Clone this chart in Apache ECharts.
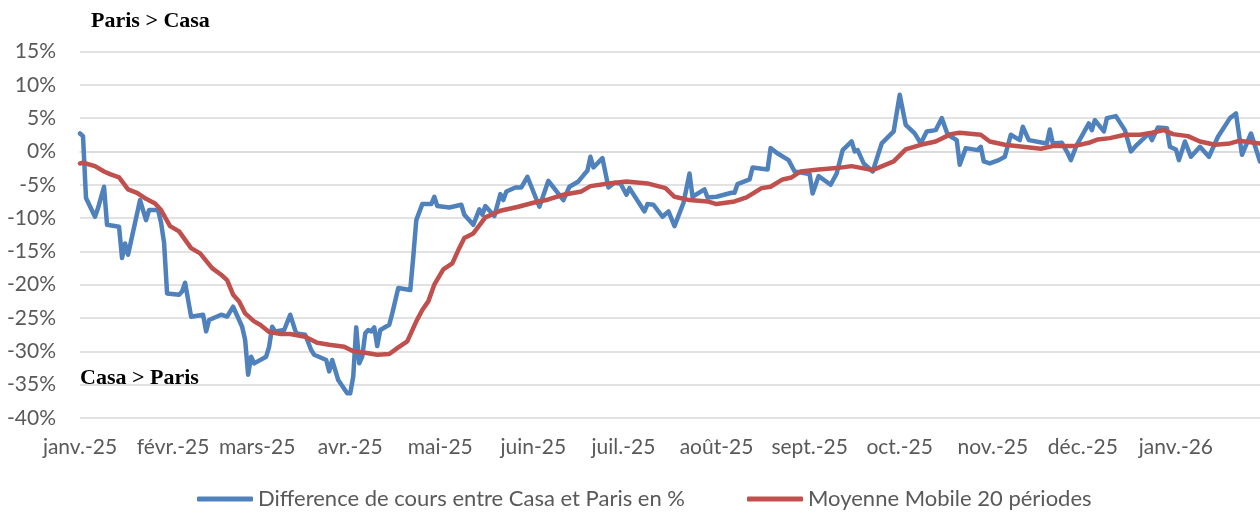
<!DOCTYPE html>
<html>
<head>
<meta charset="utf-8">
<script src="https://cdn.jsdelivr.net/npm/echarts@6/dist/echarts.min.js"></script>
<style>
html,body{margin:0;padding:0;background:#fff;}
#c{width:1260px;height:512px;}
</style>
</head>
<body>
<div id="c"></div>
<script>
const monthStarts = ['2025-01-01','2025-02-01','2025-03-01','2025-04-01','2025-05-01','2025-06-01','2025-07-01','2025-08-01','2025-09-01','2025-10-01','2025-11-01','2025-12-01','2026-01-01'];
const tickLabels = ['janv.-25','févr.-25','mars-25','avr.-25','mai-25','juin-25','juil.-25','août-25','sept.-25','oct.-25','nov.-25','déc.-25','janv.-26'];

const seriesNames = ['Difference de cours entre Casa et Paris en %', 'Moyenne Mobile 20 périodes'];

const diffDates = ['2025-01-01','2025-01-02','2025-01-03','2025-01-06','2025-01-07','2025-01-09','2025-01-10','2025-01-14','2025-01-15','2025-01-16','2025-01-17','2025-01-21','2025-01-23','2025-01-24','2025-01-27','2025-01-28','2025-01-29','2025-01-30','2025-02-03','2025-02-04','2025-02-05','2025-02-07','2025-02-11','2025-02-12','2025-02-13','2025-02-17','2025-02-19','2025-02-21','2025-02-24','2025-02-25','2025-02-26','2025-02-27','2025-02-28','2025-03-04','2025-03-05','2025-03-06','2025-03-07','2025-03-10','2025-03-12','2025-03-14','2025-03-17','2025-03-19','2025-03-20','2025-03-24','2025-03-25','2025-03-26','2025-03-28','2025-03-31','2025-04-01','2025-04-02','2025-04-03','2025-04-04','2025-04-05','2025-04-06','2025-04-07','2025-04-08','2025-04-09','2025-04-10','2025-04-11','2025-04-14','2025-04-15','2025-04-17','2025-04-21','2025-04-22','2025-04-23','2025-04-25','2025-04-28','2025-04-29','2025-04-30','2025-05-04','2025-05-08','2025-05-09','2025-05-12','2025-05-14','2025-05-15','2025-05-16','2025-05-19','2025-05-21','2025-05-22','2025-05-23','2025-05-26','2025-05-28','2025-05-30','2025-06-03','2025-06-06','2025-06-11','2025-06-13','2025-06-16','2025-06-18','2025-06-19','2025-06-20','2025-06-21','2025-06-24','2025-06-26','2025-06-28','2025-06-30','2025-07-02','2025-07-03','2025-07-08','2025-07-09','2025-07-11','2025-07-14','2025-07-16','2025-07-18','2025-07-21','2025-07-23','2025-07-24','2025-07-28','2025-07-29','2025-08-01','2025-08-06','2025-08-07','2025-08-08','2025-08-12','2025-08-13','2025-08-18','2025-08-19','2025-08-21','2025-08-25','2025-08-27','2025-09-01','2025-09-02','2025-09-04','2025-09-08','2025-09-10','2025-09-12','2025-09-15','2025-09-16','2025-09-17','2025-09-19','2025-09-22','2025-09-25','2025-09-29','2025-10-01','2025-10-03','2025-10-06','2025-10-08','2025-10-10','2025-10-13','2025-10-15','2025-10-17','2025-10-20','2025-10-21','2025-10-23','2025-10-27','2025-10-28','2025-10-29','2025-10-31','2025-11-03','2025-11-05','2025-11-07','2025-11-10','2025-11-11','2025-11-13','2025-11-19','2025-11-20','2025-11-21','2025-11-24','2025-11-26','2025-11-27','2025-11-29','2025-12-03','2025-12-04','2025-12-05','2025-12-08','2025-12-09','2025-12-12','2025-12-15','2025-12-17','2025-12-19','2025-12-23','2025-12-24','2025-12-26','2025-12-29','2025-12-30','2026-01-01','2026-01-02','2026-01-04','2026-01-06','2026-01-09','2026-01-12','2026-01-15','2026-01-19','2026-01-21','2026-01-23','2026-01-26','2026-01-29'];
const diffValues = [2.7,2.3,-7.0,-9.8,-8.5,-5.3,-11.0,-11.3,-16.0,-13.8,-15.5,-7.3,-10.3,-8.8,-8.8,-10.7,-13.7,-21.3,-21.5,-21.0,-19.7,-24.8,-24.5,-27.0,-25.3,-24.5,-24.8,-23.3,-26.3,-28.3,-33.5,-30.8,-31.8,-30.8,-29.3,-26.3,-27.0,-26.8,-24.5,-27.3,-27.5,-29.8,-30.5,-31.3,-33.0,-31.3,-34.3,-36.3,-36.3,-33.8,-26.4,-31.8,-30.8,-27.3,-26.8,-27.0,-26.4,-29.2,-26.8,-26.0,-24.3,-20.5,-20.8,-15.8,-10.3,-7.9,-7.9,-6.8,-8.2,-8.4,-8.0,-9.5,-11.0,-8.7,-9.5,-8.2,-9.7,-6.4,-7.3,-6.0,-5.4,-5.4,-3.8,-8.3,-4.4,-7.3,-5.3,-4.5,-3.4,-2.9,-0.8,-2.4,-1.0,-5.4,-4.7,-4.8,-6.5,-5.5,-9.0,-7.9,-8.0,-9.8,-9.0,-11.2,-7.7,-3.3,-6.8,-5.7,-6.9,-6.8,-6.2,-6.2,-4.9,-4.2,-2.4,-2.7,0.5,-0.2,-1.3,-3.0,-3.4,-6.3,-3.7,-5.0,-3.3,0.2,1.5,0.0,0.2,-1.8,-3.0,1.2,3.0,8.5,4.0,2.7,1.2,3.0,3.2,5.0,2.5,1.7,-2.0,0.5,0.2,0.7,-1.5,-1.8,-1.3,-0.8,2.5,1.7,3.7,1.7,1.2,3.3,1.2,1.3,-0.3,-1.3,1.0,4.2,3.2,4.7,3.0,5.0,5.3,3.2,0.0,1.0,2.7,1.7,3.6,3.5,0.7,0.3,-1.3,1.5,-0.8,0.7,-0.8,2.2,5.0,5.7,-0.5,2.7,-1.5];

const maDates = ['2025-01-01','2025-01-02','2025-01-06','2025-01-09','2025-01-11','2025-01-14','2025-01-17','2025-01-20','2025-01-23','2025-01-26','2025-01-28','2025-01-31','2025-02-03','2025-02-07','2025-02-10','2025-02-14','2025-02-17','2025-02-19','2025-02-21','2025-02-23','2025-02-25','2025-02-28','2025-03-02','2025-03-05','2025-03-09','2025-03-12','2025-03-17','2025-03-21','2025-03-25','2025-03-30','2025-04-02','2025-04-06','2025-04-10','2025-04-14','2025-04-17','2025-04-20','2025-04-23','2025-04-25','2025-04-27','2025-04-29','2025-05-02','2025-05-05','2025-05-07','2025-05-09','2025-05-12','2025-05-16','2025-05-21','2025-05-27','2025-06-01','2025-06-06','2025-06-11','2025-06-17','2025-06-20','2025-06-26','2025-07-02','2025-07-09','2025-07-15','2025-07-18','2025-07-23','2025-07-29','2025-08-01','2025-08-07','2025-08-11','2025-08-16','2025-08-19','2025-08-23','2025-08-26','2025-08-29','2025-09-04','2025-09-10','2025-09-15','2025-09-22','2025-09-29','2025-10-03','2025-10-08','2025-10-13','2025-10-18','2025-10-21','2025-10-28','2025-10-31','2025-11-05','2025-11-11','2025-11-17','2025-11-21','2025-11-28','2025-12-03','2025-12-06','2025-12-10','2025-12-15','2025-12-20','2025-12-24','2025-12-28','2025-12-31','2026-01-05','2026-01-09','2026-01-14','2026-01-19','2026-01-22','2026-01-29'];
const maValues = [-1.8,-1.7,-2.2,-3.0,-3.4,-3.9,-5.7,-6.2,-7.1,-7.8,-8.8,-11.2,-12.0,-14.5,-15.3,-17.5,-18.5,-19.3,-21.5,-22.5,-24.3,-25.5,-26.0,-27.1,-27.4,-27.4,-27.8,-28.7,-29.0,-29.3,-30.0,-30.2,-30.5,-30.4,-29.4,-28.5,-25.5,-23.8,-22.5,-20.0,-17.7,-16.8,-14.8,-13.0,-12.3,-9.9,-8.9,-8.3,-7.7,-7.2,-6.5,-6.0,-5.2,-4.8,-4.5,-4.8,-5.5,-6.8,-7.3,-7.5,-7.9,-7.5,-6.9,-5.5,-5.3,-4.2,-3.9,-3.0,-2.7,-2.5,-2.2,-2.8,-1.5,0.3,1.0,1.5,2.6,2.8,2.5,1.5,1.0,0.7,0.4,0.8,0.8,1.3,1.8,2.0,2.5,2.5,2.8,3.2,2.6,2.3,1.5,1.0,1.2,1.6,1.2];

const yTickMin = -40, yTickMax = 15, yTickStep = 5;

function toTs(s){ const p = s.split('-').map(Number); return Date.UTC(p[0], p[1]-1, p[2]); }
const monthTs = monthStarts.map(toTs);

const chart = echarts.init(document.getElementById('c'), null, {renderer:'canvas'});
const labelFont = 'Lato';
const gray = '#595959';

chart.setOption({
  animation: false,
  backgroundColor: '#ffffff',
  grid: { left: 80, right: 0, top: 51.5, bottom: 94, containLabel: false },
  xAxis: {
    type: 'value',
    min: toTs('2025-01-01'),
    max: toTs('2026-01-29'),
    axisLine: { show: true, lineStyle: { color: '#D9D9D9', width: 1.5 } },
    axisTick: { show: false },
    splitLine: { show: false },
    axisLabel: {
      customValues: monthTs,
      color: gray, fontFamily: labelFont, fontSize: 21, margin: 19,
      formatter: function (v) {
        let best = 0, bd = Infinity;
        for (let k = 0; k < monthTs.length; k++) {
          const dd = Math.abs(monthTs[k] - v);
          if (dd < bd) { bd = dd; best = k; }
        }
        return tickLabels[best];
      }
    }
  },
  yAxis: {
    type: 'value',
    min: yTickMin, max: yTickMax, interval: yTickStep,
    axisLine: { show: false },
    axisTick: { show: false },
    splitLine: { show: true, lineStyle: { color: '#D9D9D9', width: 1.5 } },
    axisLabel: { formatter: '{value}%', color: gray, fontFamily: labelFont, fontSize: 21, margin: 24 }
  },
  legend: [
    { data: [seriesNames[0]], left: 197, top: 488, padding: 0, icon: 'roundRect', itemWidth: 56, itemHeight: 5, itemGap: 5,
      textStyle: { color: gray, fontFamily: labelFont, fontSize: 22 } },
    { data: [seriesNames[1]], left: 747, top: 488, padding: 0, icon: 'roundRect', itemWidth: 56, itemHeight: 5, itemGap: 5,
      textStyle: { color: gray, fontFamily: labelFont, fontSize: 22 } }
  ],
  graphic: [
    { type: 'text', left: 91, top: 10, style: { text: 'Paris > Casa', font: 'bold 22px "Liberation Serif"', fill: '#000' } },
    { type: 'text', left: 80, top: 367, style: { text: 'Casa > Paris', font: 'bold 22px "Liberation Serif"', fill: '#000' } }
  ],
  series: [
    { name: seriesNames[0], type: 'line', symbol: 'none', smooth: false,
      itemStyle: { color: '#4F81BD' },
      lineStyle: { color: '#4F81BD', width: 4.5, join: 'round', cap: 'round' },
      data: diffDates.map((d, i) => [toTs(d), diffValues[i]]) },
    { name: seriesNames[1], type: 'line', symbol: 'none', smooth: false,
      itemStyle: { color: '#C0504D' },
      lineStyle: { color: '#C0504D', width: 4.5, join: 'round', cap: 'round' },
      data: maDates.map((d, i) => [toTs(d), maValues[i]]) }
  ]
});
</script>
</body>
</html>
